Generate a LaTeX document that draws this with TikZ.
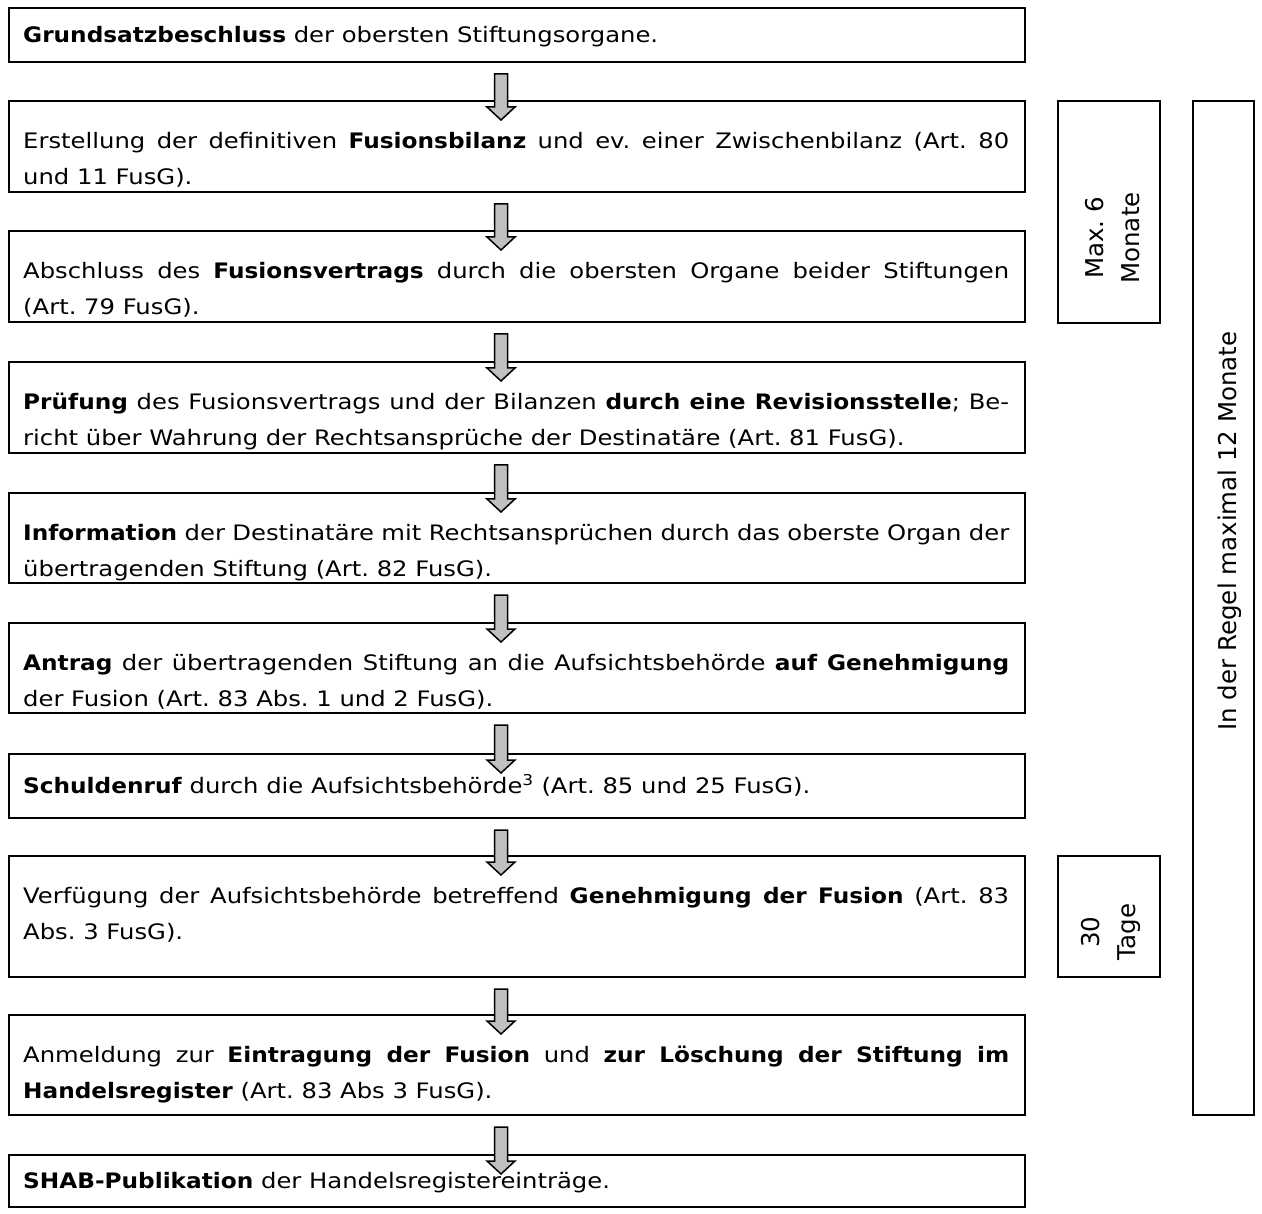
\documentclass[tikz,border=0pt]{standalone}
\usepackage{fontspec}
\setmainfont{DejaVu Sans}[FakeStretch=1.14, BoldFeatures={FakeStretch=1.09}]
\newfontfamily\sidefont{DejaVu Sans}
\usetikzlibrary{positioning}
\setlength{\parindent}{0pt}
\frenchspacing
\definecolor{arrowgray}{RGB}{192,192,192}
\tikzset{
	stepbox/.style={draw, line width=2pt, minimum width=1016pt, inner sep=0pt},
	steptext/.style={text width=986pt, align=justify, inner sep=0pt,
		font=\fontsize{21.3pt}{36pt}\selectfont, execute at begin node=\strut},
	sidebox/.style={draw, line width=2pt, inner sep=0pt},
	sidetext/.style={rotate=90, align=center, inner sep=0pt,
		font=\sidefont\fontsize{24.5pt}{36pt}\selectfont},
	fatarrow/.style={draw=black, line width=1.5pt, fill=arrowgray, line join=miter}
}
% block arrow from the bottom of #1 into the top of #2
\newcommand{\flowarrow}[2]{%
	\draw[fatarrow] ([xshift=-22.5pt,yshift=-11pt]#1.south)
		-- ([xshift=-22.5pt,yshift=-7pt]#2.north)
		-- ([xshift=-30pt,yshift=-7pt]#2.north)
		-- ([xshift=-16pt,yshift=-20pt]#2.north)
		-- ([xshift=-2pt,yshift=-7pt]#2.north)
		-- ([xshift=-9.5pt,yshift=-7pt]#2.north)
		-- ([xshift=-9.5pt,yshift=-11pt]#1.south) -- cycle;}
\begin{document}
\begin{tikzpicture}[x=1pt,y=-1pt]
	\useasboundingbox (0,0) rectangle (1262,1214);
	% steps
	\node[stepbox, minimum height=54pt] (b1) at (517,35) {};
	\node[stepbox, minimum height=91pt] (b2) at (517,146.5) {};
	\node[stepbox, minimum height=91pt] (b3) at (517,276.5) {};
	\node[stepbox, minimum height=91pt] (b4) at (517,407.5) {};
	\node[stepbox, minimum height=90pt] (b5) at (517,538) {};
	\node[stepbox, minimum height=90pt] (b6) at (517,668) {};
	\node[stepbox, minimum height=64pt] (b7) at (517,786) {};
	\node[stepbox, minimum height=121pt] (b8) at (517,916.5) {};
	\node[stepbox, minimum height=100pt] (b9) at (517,1065) {};
	\node[stepbox, minimum height=52pt] (b10) at (517,1181) {};
	% texts
	\node[steptext, right=15pt of b1.west] (t1)
		{\textbf{Grundsatzbeschluss} der obersten Stiftungsorgane.};
	\node[steptext, below right=23pt and 15pt of b2.north west] (t2)
		{Erstellung der definitiven \textbf{Fusionsbilanz} und ev. einer Zwischenbilanz (Art. 80\linebreak und 11 FusG).};
	\node[steptext, below right=23pt and 15pt of b3.north west] (t3)
		{Abschluss des \textbf{Fusionsvertrags} durch die obersten Organe beider Stiftungen\linebreak (Art. 79 FusG).};
	\node[steptext, below right=23pt and 15pt of b4.north west] (t4)
		{\textbf{Prüfung} des Fusionsvertrags und der Bilanzen \textbf{durch eine Revisionsstelle}; Be-\linebreak richt über Wahrung der Rechtsansprüche der Destinatäre (Art. 81 FusG).};
	\node[steptext, below right=23pt and 15pt of b5.north west] (t5)
		{\textbf{Information} der Destinatäre mit Rechtsansprüchen durch das oberste Organ der\linebreak übertragenden Stiftung (Art. 82 FusG).};
	\node[steptext, below right=23pt and 15pt of b6.north west] (t6)
		{\textbf{Antrag} der übertragenden Stiftung an die Aufsichtsbehörde \textbf{auf Genehmigung}\linebreak der Fusion (Art. 83 Abs. 1 und 2 FusG).};
	\node[steptext, right=15pt of b7.west] (t7)
		{\textbf{Schuldenruf} durch die Aufsichtsbehörde\textsuperscript{3} (Art. 85 und 25 FusG).};
	\node[steptext, below right=23pt and 15pt of b8.north west] (t8)
		{Verfügung der Aufsichtsbehörde betreffend \textbf{Genehmigung der Fusion} (Art. 83\linebreak Abs. 3 FusG).};
	\node[steptext, below right=23pt and 15pt of b9.north west] (t9)
		{Anmeldung zur \textbf{Eintragung der Fusion} und \textbf{zur Löschung der Stiftung im\linebreak Handelsregister} (Art. 83 Abs 3 FusG).};
	\node[steptext, right=15pt of b10.west] (t10)
		{\textbf{SHAB-Publikation} der Handelsregistereinträge.};
	% arrows
	\foreach \i [evaluate=\i as \j using int(\i+1)] in {1,...,9}
		\flowarrow{b\i}{b\j};
	% time frames
	\node[sidebox, minimum width=102pt, minimum height=222pt] (m6) at (1109,212) {};
	\node[sidetext] (tm6) at (1113,238) {Max. 6\\Monate};
	\node[sidebox, minimum width=102pt, minimum height=121pt] (d30) at (1109,916.5) {};
	\node[sidetext] (td30) at (1111,932) {30\\Tage};
	\node[sidebox, minimum width=61pt, minimum height=1014pt] (m12) at (1223.5,608) {};
	\node[sidetext] (tm12) at (1230,531) {In der Regel maximal 12 Monate};
\end{tikzpicture}
\end{document}
